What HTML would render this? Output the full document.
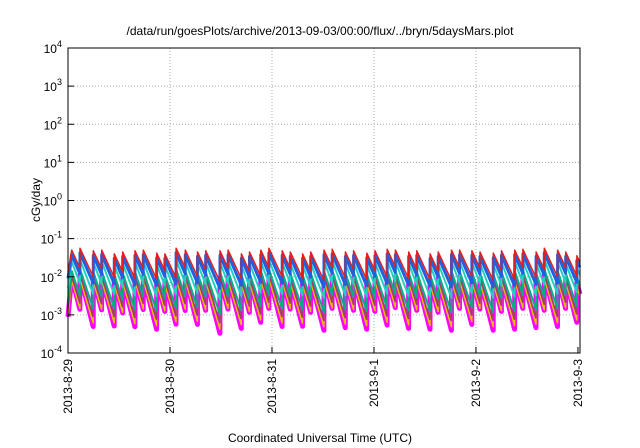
<!DOCTYPE html>
<html><head><meta charset="utf-8"><style>
body{margin:0;background:#fff}
svg{display:block;font-family:"Liberation Sans",sans-serif}
</style></head><body>
<svg width="640" height="448" viewBox="0 0 640 448">
<rect width="640" height="448" fill="#fff"/>
<text x="320" y="35" text-anchor="middle" font-size="12">/data/run/goesPlots/archive/2013-09-03/00:00/flux/../bryn/5daysMars.plot</text>
<g id="grid"></g>
<g id="series"></g>
<rect x="68" y="48" width="512" height="305" fill="none" stroke="#000" stroke-width="1"/>
<g id="axes"></g>
<text x="320" y="442" text-anchor="middle" font-size="12">Coordinated Universal Time (UTC)</text>
<text transform="translate(40,200) rotate(-90)" text-anchor="middle" font-size="12">cGy/day</text>
</svg>
<script>
const xTickLabels=["2013-8-29","2013-8-30","2013-8-31","2013-9-1","2013-9-2","2013-9-3"];
const yTickExps=[4,3,2,1,0,-1,-2,-3,-4];
const teethT=[0.036,0.118,0.248,0.33,0.454,0.536,0.657,0.738,0.87,0.95,1.06,1.15,1.27,1.35,1.49,1.57,1.70,1.78,1.89,1.97,2.10,2.18,2.30,2.38,2.51,2.59,2.72,2.80,2.93,3.01,3.13,3.21,3.34,3.42,3.55,3.63,3.76,3.84,3.96,4.04,4.17,4.25,4.38,4.46,4.59,4.67,4.80,4.88,4.99];
const teethAmp=[0.0,0.05,-0.02,0.0,-0.1,-0.05,-0.02,0.0,-0.08,-0.1,0.05,0.0,-0.05,-0.02,-0.02,0.0,-0.1,-0.05,0.0,0.05,-0.02,-0.05,-0.1,-0.05,0.0,0.02,-0.05,-0.02,-0.08,-0.02,0.02,0.0,-0.05,-0.02,-0.1,-0.05,0.0,0.0,-0.02,-0.05,-0.08,-0.02,0.0,0.02,-0.05,0.05,0.0,-0.05,-0.15];
const seriesNames=["magenta","yellow","brown","green","teal","blue","red"];
const seriesColors=["#ff00ff","#e0c000","#a04060","#00b080","#20d0c0","#2060e0","#e02020"];
const seriesWidths=[5,1.5,1.5,2,2,3,1.5];
const seriesPeak=[-2.0,-2.1,-2.0,-1.85,-1.6,-1.42,-1.3];
const seriesDecay=[10.5,9,8.5,8,7,6.2,5.8];
const X0=68,X1=580,Y0=48,Y1=353,XMAX=5.02;
const xs=t=>X0+(X1-X0)*t/XMAX;
const ys=e=>Y0+(4-e)*(Y1-Y0)/8;
const NS="http://www.w3.org/2000/svg";
const grid=document.getElementById('grid'),axes=document.getElementById('axes'),ser=document.getElementById('series');
function mk(tag,attrs,parent){const e=document.createElementNS(NS,tag);for(const k in attrs)e.setAttribute(k,attrs[k]);parent.appendChild(e);return e;}
yTickExps.forEach(e=>{
  const y=ys(e);
  if(e<4&&e>-4){const g=mk('line',{x1:X0,x2:X1,y1:y,y2:y,stroke:'#aaa','stroke-dasharray':'1,2'},grid);
  
  }
  const t=mk('line',{x1:X0,x2:X0+6,y1:y,y2:y,stroke:'#000'},axes);
  
  
  const tx=mk('text',{x:X0-6,y:y+5,'text-anchor':'end','font-size':'12'},axes);
  
  
  tx.innerHTML='10<tspan font-size="9" dy="-6">'+e+'</tspan>';
});
xTickLabels.forEach((lab,i)=>{
  const x=xs(i);
  if(i>0&&i<5){const g=mk('line',{x1:x,x2:x,y1:Y0,y2:Y1,stroke:'#aaa','stroke-dasharray':'1,2'},grid);
  
  }
  const t=mk('line',{x1:x,x2:x,y1:Y1,y2:Y1-6,stroke:'#000'},axes);
  
  
  const tx=mk('text',{transform:`translate(${x+4},${Y1+6}) rotate(-90)`,'text-anchor':'end','font-size':'12'},axes);
  
  
  tx.textContent=lab;
});
seriesNames.forEach((nm,s)=>{
  const pts=[];
  pts.push([0,seriesPeak[s]-seriesDecay[s]*0.1]);
  teethT.forEach((t,i)=>{
    const pk=seriesPeak[s]+teethAmp[i];
    const next=i+1<teethT.length?teethT[i+1]:XMAX;
    pts.push([t,pk]);
    pts.push([next-0.001,pk-seriesDecay[s]*(next-0.001-t)]);
  });
  const p=mk('polyline',{points:pts.map(q=>xs(q[0]).toFixed(1)+','+ys(q[1]).toFixed(1)).join(' '),fill:'none',stroke:seriesColors[s],'stroke-width':seriesWidths[s],'stroke-linejoin':'round'},ser);
  
  
});
</script>
</body></html>
